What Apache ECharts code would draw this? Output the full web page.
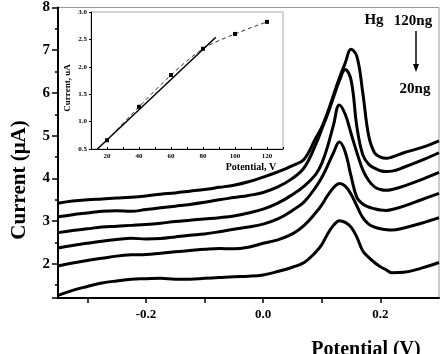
<!DOCTYPE html>
<html>
<head>
<meta charset="utf-8">
<script src="https://cdn.jsdelivr.net/npm/echarts@6/dist/echarts.min.js"></script>
<style>
  html, body { margin: 0; padding: 0; background: #fff; }
  #chart { width: 444px; height: 354px; }
</style>
</head>
<body>
<div id="chart"></div>
<script>
// potential (V), shared by all six voltammograms
const potential = [-0.35, -0.325, -0.3, -0.275, -0.25, -0.225, -0.2, -0.175, -0.15, -0.125, -0.1, -0.075, -0.05, -0.025, 0, 0.025, 0.05, 0.07, 0.09, 0.1, 0.11, 0.12, 0.13, 0.14, 0.15, 0.16, 0.17, 0.18, 0.19, 0.2, 0.21, 0.22, 0.24, 0.27, 0.3];

// current (uA), top curve = 120ng, bottom = 20ng
const hg120 = [3.42, 3.47, 3.5, 3.52, 3.54, 3.56, 3.59, 3.63, 3.66, 3.7, 3.74, 3.79, 3.84, 3.92, 4.03, 4.15, 4.3, 4.45, 4.95, 5.2, 5.55, 5.95, 6.35, 6.7, 7.02, 6.85, 6.0, 5.0, 4.6, 4.5, 4.47, 4.5, 4.6, 4.72, 4.88];
const hg100 = [3.1, 3.15, 3.19, 3.23, 3.24, 3.23, 3.27, 3.31, 3.35, 3.39, 3.44, 3.5, 3.55, 3.6, 3.67, 3.8, 4.0, 4.25, 4.8, 5.15, 5.5, 5.9, 6.28, 6.55, 6.3, 5.2, 4.55, 4.33, 4.24, 4.18, 4.16, 4.17, 4.26, 4.42, 4.6];
const hg80 = [2.73, 2.78, 2.82, 2.86, 2.88, 2.9, 2.92, 2.95, 2.99, 3.02, 3.05, 3.08, 3.12, 3.19, 3.28, 3.42, 3.62, 3.82, 4.1, 4.35, 4.75, 5.25, 5.72, 5.5, 5.05, 4.6, 4.2, 3.95, 3.8, 3.74, 3.72, 3.74, 3.82, 3.97, 4.14];
const hg60 = [2.37, 2.43, 2.48, 2.53, 2.57, 2.6, 2.58, 2.59, 2.63, 2.67, 2.7, 2.75, 2.81, 2.86, 2.93, 3.05, 3.25, 3.45, 3.8, 4.02, 4.3, 4.6, 4.85, 4.62, 4.05, 3.55, 3.4, 3.33, 3.29, 3.26, 3.25, 3.27, 3.35, 3.5, 3.65];
const hg40 = [1.95, 2.02, 2.08, 2.13, 2.18, 2.21, 2.22, 2.25, 2.28, 2.31, 2.34, 2.36, 2.35, 2.39, 2.48, 2.56, 2.7, 2.9, 3.2, 3.38, 3.6, 3.78, 3.88, 3.82, 3.63, 3.35, 3.08, 2.93, 2.86, 2.82, 2.8, 2.79, 2.84, 2.95, 3.08];
const hg20 = [1.26, 1.38, 1.47, 1.55, 1.6, 1.64, 1.65, 1.66, 1.64, 1.64, 1.66, 1.68, 1.7, 1.71, 1.74, 1.82, 1.92, 2.03, 2.28, 2.45, 2.7, 2.9, 3.01, 2.97, 2.86, 2.62, 2.3, 2.15, 2.03, 1.93, 1.86, 1.79, 1.8, 1.9, 2.03];

// inset: peak current vs amount
const insetAmount = [20, 40, 60, 80, 100, 120];
const insetCurrent = [0.66, 1.27, 1.85, 2.33, 2.6, 2.82];
// linear fit line ends
const fitAmount = [14, 88];
const fitCurrent = [0.5, 2.54];

const serif = "'Liberation Serif', 'DejaVu Serif', serif";
const curves = [hg120, hg100, hg80, hg60, hg40, hg20];

let chart = echarts.init(document.getElementById("chart"));

let mainSeries = curves.map(function (c) {
  return {
    type: "line",
    xAxisIndex: 0,
    yAxisIndex: 0,
    data: potential.map(function (x, i) { return [x, c[i]]; }),
    smooth: 0.4,
    showSymbol: false,
    lineStyle: { color: "#000", width: 3 },
    z: 3,
  };
});

let option = {
  animation: false,
  grid: [
    { left: 58, right: 5, top: 6, bottom: 56, show: true, borderColor: "#999", borderWidth: 1 },
    { left: 91, top: 12, width: 192, height: 137, show: true, borderColor: "#aaa", borderWidth: 1 },
  ],
  xAxis: [
    {
      type: "value",
      gridIndex: 0,
      min: -0.35,
      max: 0.3,
      minInterval: 0.1,
      maxInterval: 0.1,
      axisLine: { onZero: false, lineStyle: { color: "#000", width: 2 } },
      axisTick: { length: 5, lineStyle: { color: "#000", width: 1.5 } },
      splitLine: { show: false },
      axisLabel: {
        margin: 10,
        color: "#000",
        fontFamily: serif,
        fontWeight: "bold",
        fontSize: 13,
        showMinLabel: false,
        showMaxLabel: false,
        formatter: function (v) {
          let k = Math.round(v * 10);
          if (Math.abs(v * 10 - k) > 1e-6 || k % 2 !== 0) return "";
          return k === 0 ? "0.0" : (k / 10).toFixed(1);
        },
      },
    },
    {
      type: "value",
      gridIndex: 1,
      min: 10,
      max: 130,
      interval: 10,
      axisLine: { onZero: false, lineStyle: { color: "#000", width: 1 } },
      axisTick: { inside: true, length: 2, lineStyle: { color: "#000" } },
      splitLine: { show: false },
      axisLabel: {
        margin: 4,
        color: "#000",
        fontFamily: serif,
        fontWeight: "bold",
        fontSize: 7,
        formatter: function (v) {
          return v % 20 === 0 && v >= 20 && v <= 120 ? String(v) : "";
        },
      },
    },
  ],
  yAxis: [
    {
      type: "value",
      gridIndex: 0,
      min: 1.2,
      max: 8,
      minInterval: 1,
      maxInterval: 1,
      axisLine: { show: true, onZero: false, lineStyle: { color: "#000", width: 2 } },
      axisTick: { show: true, length: 6, lineStyle: { color: "#000", width: 1.5 } },
      minorTick: { show: true, splitNumber: 2, length: 3, lineStyle: { color: "#000", width: 1.5 } },
      splitLine: { show: false },
      axisLabel: {
        margin: 8,
        color: "#000",
        fontFamily: serif,
        fontWeight: "bold",
        fontSize: 15,
        showMinLabel: false,
        formatter: function (v) {
          return Math.abs(v - Math.round(v)) < 1e-6 ? String(Math.round(v)) : "";
        },
      },
    },
    {
      type: "value",
      gridIndex: 1,
      min: 0.5,
      max: 3,
      interval: 0.5,
      axisLine: { show: true, onZero: false, lineStyle: { color: "#000", width: 1 } },
      axisTick: { show: true, length: 2, lineStyle: { color: "#000" } },
      splitLine: { show: false },
      axisLabel: {
        margin: 4,
        color: "#000",
        fontFamily: serif,
        fontWeight: "bold",
        fontSize: 7,
        formatter: function (v) { return v.toFixed(1); },
      },
    },
  ],
  series: mainSeries.concat([
    {
      type: "line",
      xAxisIndex: 1,
      yAxisIndex: 1,
      data: insetAmount.map(function (x, i) { return [x, insetCurrent[i]]; }),
      smooth: 0.3,
      symbol: "rect",
      symbolSize: 4,
      itemStyle: { color: "#000" },
      lineStyle: { color: "#333", width: 1, type: [4, 3] },
    },
    {
      type: "line",
      xAxisIndex: 1,
      yAxisIndex: 1,
      data: fitAmount.map(function (x, i) { return [x, fitCurrent[i]]; }),
      showSymbol: false,
      lineStyle: { color: "#000", width: 1.5 },
    },
  ]),
  graphic: [
    {
      type: "text",
      x: 20,
      y: 180,
      rotation: Math.PI / 2,
      style: {
        text: "Current (μA)",
        font: "bold 21px " + serif,
        fill: "#000",
        align: "center",
        verticalAlign: "middle",
      },
    },
    {
      type: "text",
      x: 366,
      y: 340,
      style: {
        text: "Potential (V)",
        font: "bold 20px " + serif,
        fill: "#000",
        align: "center",
        verticalAlign: "top",
      },
    },
    {
      type: "text",
      x: 68,
      y: 88,
      rotation: Math.PI / 2,
      style: {
        text: "Current, uA",
        font: "bold 9px " + serif,
        fill: "#000",
        align: "center",
        verticalAlign: "middle",
      },
    },
    {
      type: "text",
      x: 251,
      y: 167,
      style: {
        text: "Potential, V",
        font: "bold 10px " + serif,
        fill: "#000",
        align: "center",
        verticalAlign: "middle",
      },
    },
    {
      type: "text",
      x: 374,
      y: 20,
      style: { text: "Hg", font: "bold 15px " + serif, fill: "#000", align: "center", verticalAlign: "middle" },
    },
    {
      type: "text",
      x: 413,
      y: 21,
      style: { text: "120ng", font: "bold 15px " + serif, fill: "#000", align: "center", verticalAlign: "middle" },
    },
    {
      type: "text",
      x: 415,
      y: 89,
      style: { text: "20ng", font: "bold 15px " + serif, fill: "#000", align: "center", verticalAlign: "middle" },
    },
    {
      type: "line",
      shape: { x1: 416, y1: 31, x2: 416, y2: 66 },
      style: { stroke: "#000", lineWidth: 1.5 },
    },
    {
      type: "polygon",
      shape: { points: [[413, 64], [419, 64], [416, 72]] },
      style: { fill: "#000" },
    },
  ],
};

option && chart.setOption(option);
</script>
</body>
</html>
